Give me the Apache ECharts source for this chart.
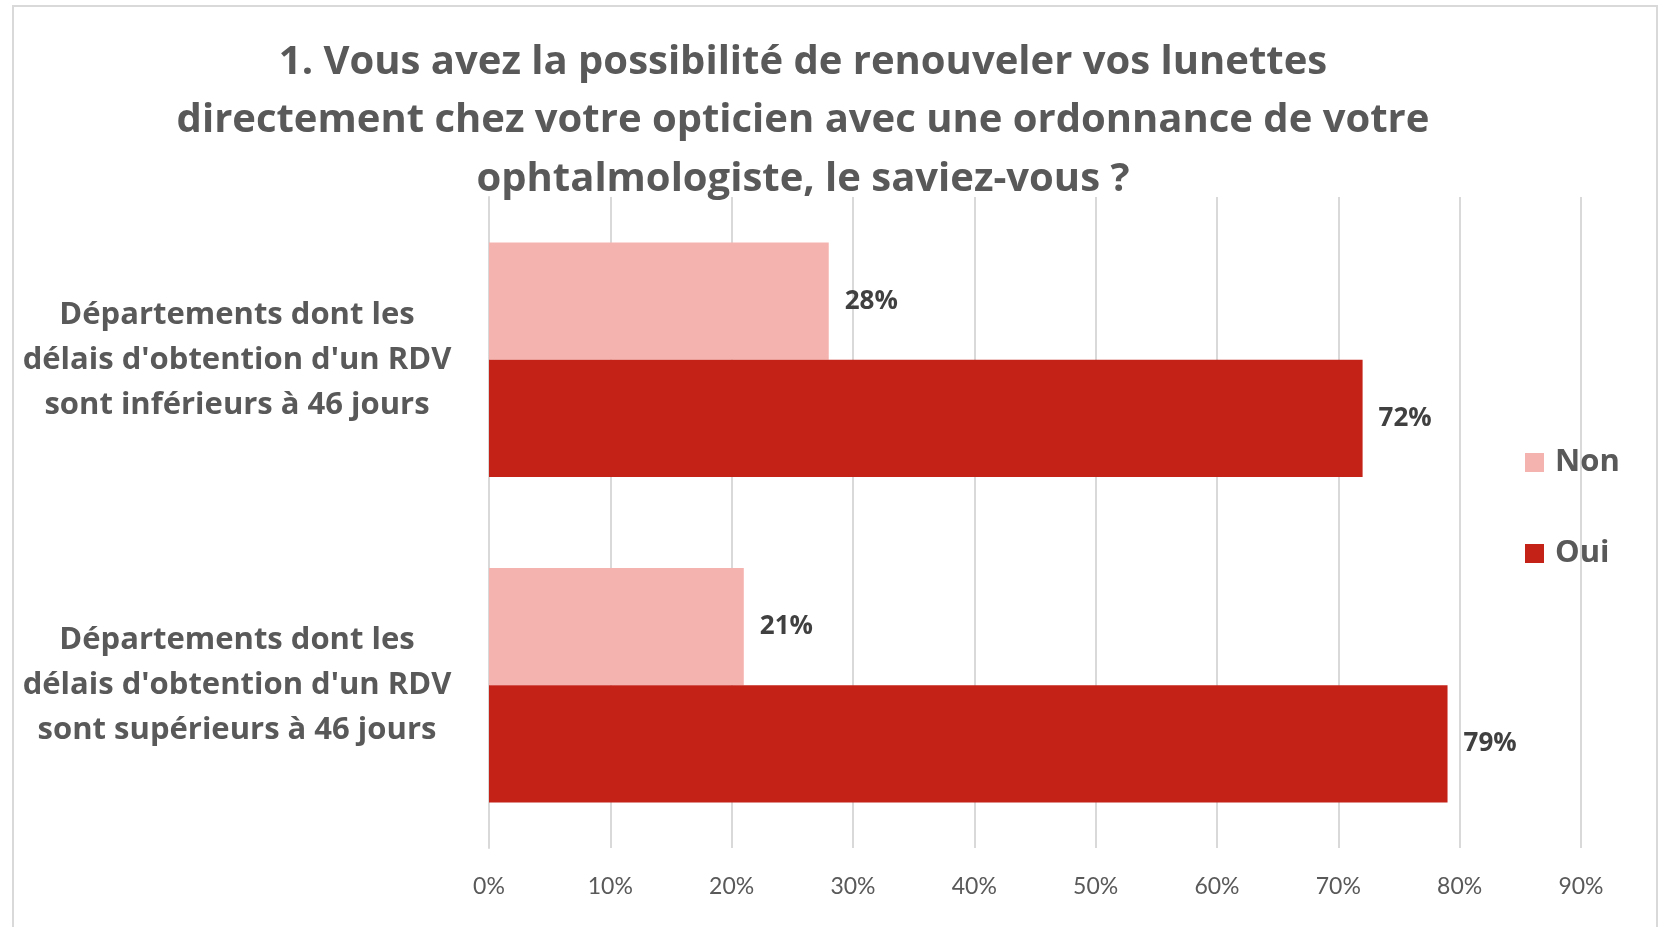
<!DOCTYPE html>
<html>
<head>
<meta charset="utf-8">
<script src="https://cdn.jsdelivr.net/npm/echarts@6/dist/echarts.min.js"></script>
<style>
  html, body { margin: 0; padding: 0; background: #fff; }
  #chart { width: 1663px; height: 927px; }
</style>
</head>
<body>
<div id="chart"></div>
<script>
const categories = [
  "Départements dont les\ndélais d'obtention d'un RDV\nsont inférieurs à 46 jours",
  "Départements dont les\ndélais d'obtention d'un RDV\nsont supérieurs à 46 jours"
];
const nonValues = [28, 21];
const ouiValues = [72, 79];
const titleText = "1. Vous avez la possibilité de renouveler vos lunettes\ndirectement chez votre opticien avec une ordonnance de votre\nophtalmologiste, le saviez-vous ?";

const boldFont = 'Open Sans';
const font = 'Lato';
const grey = '#595959';

const chart = echarts.init(document.getElementById('chart'));
chart.setOption({
  backgroundColor: '#fff',
  animation: false,
  textStyle: { fontFamily: font },
  graphic: [{
    type: 'rect',
    shape: { x: 13, y: 6, width: 1644, height: 960 },
    style: { fill: 'none', stroke: '#d9d9d9', lineWidth: 2 },
    z: -1
  }],
  title: {
    text: titleText,
    left: 798,
    top: 28,
    textAlign: 'center',
    textStyle: {
      fontFamily: boldFont,
      fontSize: 40,
      fontWeight: 'bold',
      color: grey,
      lineHeight: 58.5
    }
  },
  legend: {
    orient: 'vertical',
    left: 1520,
    top: 442,
    itemWidth: 19,
    itemHeight: 19,
    itemGap: 60,
    icon: 'rect',
    data: ['Non', 'Oui'],
    textStyle: {
      fontFamily: boldFont,
      fontSize: 31,
      fontWeight: 'bold',
      color: grey,
      lineHeight: 30,
      padding: [0, 0, 0, 6]
    }
  },
  grid: {
    left: 489,
    right: 82,
    top: 197,
    bottom: 79,
    containLabel: false
  },
  xAxis: {
    type: 'value',
    min: 0,
    max: 90,
    interval: 10,
    axisLine: { show: false },
    axisTick: { show: false },
    splitLine: { show: true, lineStyle: { color: '#d9d9d9', width: 2 } },
    axisLabel: {
      formatter: '{value}%',
      fontFamily: font,
      fontSize: 23,
      color: grey,
      margin: 27
    }
  },
  yAxis: {
    type: 'category',
    inverse: true,
    data: categories,
    axisLine: { show: true, lineStyle: { color: '#d9d9d9', width: 2 } },
    axisTick: { show: false },
    axisLabel: {
      fontFamily: boldFont,
      fontSize: 31,
      fontWeight: 'bold',
      color: grey,
      lineHeight: 45,
      align: 'center',
      margin: 252,
      padding: [4, 0, 0, 0]
    }
  },
  series: [
    {
      name: 'Non',
      type: 'bar',
      data: nonValues,
      barGap: '0%',
      barCategoryGap: '28%',
      itemStyle: { color: '#f5b3af' },
      label: {
        show: true,
        position: 'right',
        distance: 16,
        formatter: '{c}%',
        fontFamily: boldFont,
        fontSize: 26,
        fontWeight: 'bold',
        color: '#404040'
      }
    },
    {
      name: 'Oui',
      type: 'bar',
      data: ouiValues,
      barGap: '0%',
      barCategoryGap: '28%',
      itemStyle: { color: '#c42117' },
      label: {
        show: true,
        position: 'right',
        distance: 16,
        formatter: '{c}%',
        fontFamily: boldFont,
        fontSize: 26,
        fontWeight: 'bold',
        color: '#404040'
      }
    }
  ]
});
</script>
</body>
</html>
